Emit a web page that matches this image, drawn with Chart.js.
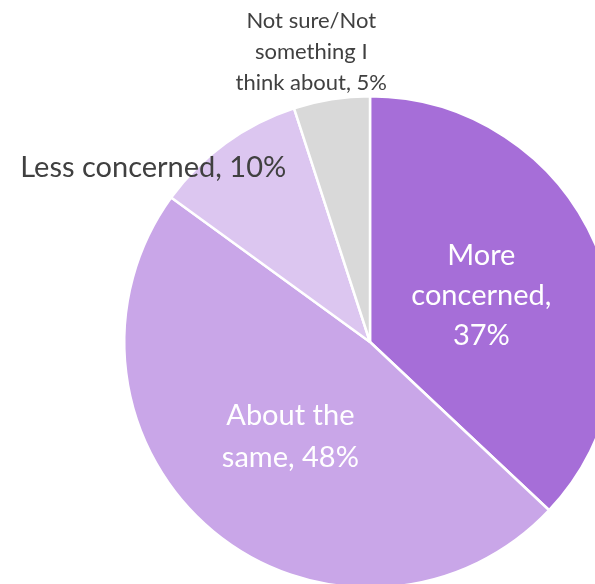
<!DOCTYPE html>
<html>
<head>
<meta charset="utf-8">
<script src="https://cdn.jsdelivr.net/npm/chart.js@4/dist/chart.umd.min.js"></script>
<style>
  html, body { margin: 0; padding: 0; background: #fff; overflow: hidden; }
  #wrap { position: absolute; left: 0; top: 0; width: 740px; height: 684px; }
</style>
</head>
<body>
<div id="wrap"><canvas id="myChart" width="740" height="684"></canvas></div>
<script>
// data
var labels = ['More concerned', 'About the same', 'Less concerned', 'Not sure/Not something I think about'];
var values = [37, 48, 10, 5];
var colors = ['#A66ED8', '#C9A6E8', '#DCC6F0', '#D9D9D9'];

// label text, line split as in picture
var labelLines = [
  ['More', 'concerned,', '37%'],
  ['About the', 'same, 48%'],
  ['Less concerned, 10%'],
  ['Not sure/Not', 'something I', 'think about, 5%']
];

var FONT = 'Lato, "Open Sans", sans-serif';

// label placement: offset from the pie centre, as fraction of the radius
var labelPos = [
  { dx: 0.453, dy: -0.19, size: 29, lh: 40, color: '#ffffff' },
  { dx: -0.324, dy: 0.385, size: 29, lh: 42, color: '#ffffff' },
  { dx: -0.882, dy: -0.708, size: 29, lh: 40, color: '#404040' },
  { dx: -0.239, dy: -1.182, size: 22, lh: 31, color: '#404040' }
];

var pieLabels = {
  id: 'pieLabels',
  afterDatasetsDraw: function(chart) {
    var ctx = chart.ctx;
    var meta = chart.getDatasetMeta(0);
    meta.data.forEach(function(arc, i) {
      var p = labelPos[i];
      var r = arc.outerRadius;
      var cx = arc.x + p.dx * r;
      var cy = arc.y + p.dy * r;
      var lines = labelLines[i];
      ctx.save();
      ctx.font = p.size + 'px ' + FONT;
      ctx.fillStyle = p.color;
      ctx.textAlign = 'center';
      ctx.textBaseline = 'middle';
      var y0 = cy - (lines.length - 1) * p.lh / 2;
      lines.forEach(function(t, k) {
        ctx.fillText(t, cx, y0 + k * p.lh);
      });
      ctx.restore();
    });
  }
};

var ctx = document.getElementById('myChart');
var myChart = new Chart(ctx, {
  type: 'pie',
  data: {
    labels: labels,
    datasets: [{
      data: values,
      backgroundColor: colors,
      borderColor: '#ffffff',
      borderWidth: 2.5
    }]
  },
  options: {
    responsive: false,
    animation: false,
    layout: { padding: { left: 123, right: 123, top: 95, bottom: 95 } },
    plugins: {
      legend: { display: false },
      tooltip: { enabled: false }
    }
  },
  plugins: [pieLabels]
});
</script>
</body>
</html>
